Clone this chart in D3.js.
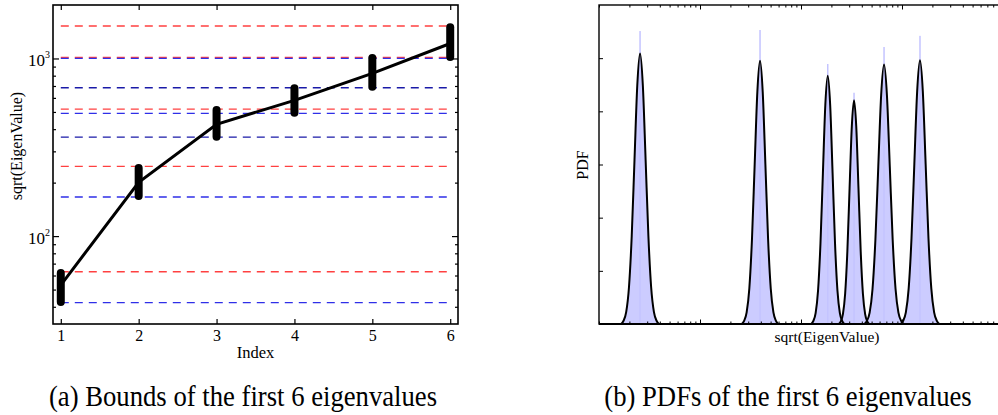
<!DOCTYPE html>
<html>
<head>
<meta charset="utf-8">
<script src="https://cdn.jsdelivr.net/npm/d3@7"></script>
<style>
  body { margin: 0; background: #fff; }
  svg { display: block; }
  svg text { font-family: "Liberation Serif", "Times New Roman", serif; }
</style>
</head>
<body>
<svg id="fig" width="998" height="415"></svg>
<script>
// ---- panel (a): bounds of the eigenvalues ----
const indices = [1, 2, 3, 4, 5, 6];
const meanSqrtEig = [53, 201, 426, 581, 824, 1214];
const sampleLow = [42.6, 168, 363, 495, 694, 1020];
const sampleHigh = [62, 242, 513, 680, 1005, 1500];
const lowerBound = [42.2, 166, 491, 1000];
const upperBound = [63, 247, 519, 1015, 1523];
const sharedBound = [361, 684];
const yMajor = [100, 1000];
const yMinor = [40, 50, 60, 70, 80, 90, 200, 300, 400, 500, 600, 700, 800, 900];

// ---- panel (b): pdfs ----
const peakCenter = [2550, 39300, 184000, 335000, 664000, 1507000];
const peakSigma = [0.055, 0.053, 0.048, 0.044, 0.057, 0.056];   // decades
const peakHeight = [5.09, 4.95, 4.67, 4.21, 4.88, 4.96];
const spikeHeight = [5.51, 5.53, 4.89, 4.35, 5.21, 5.42];
// shape of one peak: [offset in sigma, fraction of peak height]
const peakShape = [[-3.4, 0], [-3, 0.011], [-2.5, 0.044], [-2, 0.135], [-1.5, 0.325],
  [-1, 0.607], [-0.5, 0.882], [0, 1], [0.5, 0.882], [1, 0.607], [1.5, 0.325],
  [2, 0.135], [2.5, 0.044], [3, 0.011], [3.4, 0]];
const pdfTicks = [1, 2, 3, 4, 5];
const xMajorB = [1e4, 1e5, 1e6];

const svg = d3.select('#fig');

// ===================== panel (a) =====================
const A = { left: 53, right: 458, top: 5, bottom: 324 };
const xa = d3.scaleLinear().domain([0.9, 6.1]).range([A.left, A.right]);
const ya = d3.scaleLog().domain([32, 2000]).range([A.bottom, A.top]);
const ga = svg.append('g');

function boundLines(cls, values, colour) {
  ga.selectAll('line.' + cls)
    .data(values)
    .join('line')
    .attr('class', cls)
    .attr('x1', xa(1)).attr('x2', xa(6))
    .attr('y1', d => ya(d)).attr('y2', d => ya(d))
    .attr('stroke', colour)
    .attr('stroke-width', 1.3)
    .attr('stroke-dasharray', '8,6');
}
boundLines('up', upperBound, '#ff4040');
boundLines('low', lowerBound, '#2f2fe8');
boundLines('shared', sharedBound, '#1a1aa8');

// sample ranges (stacked markers)
ga.selectAll('line.range')
  .data(indices)
  .join('line')
  .attr('class', 'range')
  .attr('x1', d => xa(d)).attr('x2', d => xa(d))
  .attr('y1', (d, i) => ya(sampleLow[i]))
  .attr('y2', (d, i) => ya(sampleHigh[i]))
  .attr('stroke', '#000')
  .attr('stroke-width', 8)
  .attr('stroke-linecap', 'round');

// mean line
ga.append('path')
  .datum(indices)
  .attr('fill', 'none')
  .attr('stroke', '#000')
  .attr('stroke-width', 3)
  .attr('d', d3.line().x(d => xa(d)).y((d, i) => ya(meanSqrtEig[i])));

// axes
const axA = svg.append('g');
axA.append('g')
  .attr('transform', `translate(0,${A.bottom})`)
  .call(d3.axisBottom(xa).tickValues(indices).tickSize(-5).tickSizeOuter(0).tickPadding(6).tickFormat(d3.format('d')));
axA.append('g')
  .attr('transform', `translate(0,${A.top})`)
  .call(d3.axisTop(xa).tickValues(indices).tickSize(-5).tickSizeOuter(0).tickFormat(''));
axA.append('g')
  .attr('transform', `translate(${A.left},0)`)
  .call(d3.axisLeft(ya).tickValues(yMinor).tickSize(-3).tickSizeOuter(0).tickFormat(''));
const yMajG = axA.append('g')
  .attr('transform', `translate(${A.left},0)`)
  .call(d3.axisLeft(ya).tickValues(yMajor).tickSize(-6).tickSizeOuter(0).tickFormat(''));
axA.append('g')
  .attr('transform', `translate(${A.right},0)`)
  .call(d3.axisRight(ya).tickValues(yMinor).tickSize(-3).tickSizeOuter(0).tickFormat(''));
axA.append('g')
  .attr('transform', `translate(${A.right},0)`)
  .call(d3.axisRight(ya).tickValues(yMajor).tickSize(-6).tickSizeOuter(0).tickFormat(''));

yMajG.selectAll('.tick text').remove();
yMajG.selectAll('.tick').append('text')
  .attr('x', -3)
  .attr('y', 7)
  .attr('text-anchor', 'end')
  .attr('font-size', 17)
  .each(function(d) {
    const t = d3.select(this);
    t.append('tspan').text('10');
    t.append('tspan').attr('font-size', 10).attr('dy', -8).text(Math.round(Math.log10(d)));
  });

axA.selectAll('.domain').remove();
axA.selectAll('.tick line').attr('stroke', '#000').attr('stroke-width', 1.2);
axA.selectAll('.tick text').attr('fill', '#000');
axA.selectAll('.tick text:not([font-size])').attr('font-size', 16);

ga.append('rect')
  .attr('x', A.left).attr('y', A.top)
  .attr('width', A.right - A.left).attr('height', A.bottom - A.top)
  .attr('fill', 'none').attr('stroke', '#000').attr('stroke-width', 1.6);

svg.append('text')
  .attr('x', (A.left + A.right) / 2).attr('y', 358)
  .attr('text-anchor', 'middle').attr('font-size', 16.5)
  .text('Index');

svg.append('text')
  .attr('transform', 'translate(22,146) rotate(-90)')
  .attr('text-anchor', 'middle').attr('font-size', 16)
  .text('sqrt(EigenValue)');

// ===================== panel (b) =====================
const B = { left: 599, right: 1003, top: 5, bottom: 324 };
const xb = d3.scaleLog().domain([1e3, 1e7]).range([B.left, B.right]);
const yb = d3.scaleLinear().domain([0, 6]).range([B.bottom, B.top]);
const gb = svg.append('g');

const peaks = peakCenter.map((c, i) => peakShape.map(([o, f]) => ({
  x: c * Math.pow(10, o * peakSigma[i]),
  y: f * peakHeight[i]
})));

const area = d3.area().x(d => xb(d.x)).y0(yb(0)).y1(d => yb(d.y)).curve(d3.curveMonotoneX);
const line = d3.line().x(d => xb(d.x)).y(d => yb(d.y)).curve(d3.curveMonotoneX);

gb.selectAll('path.fill')
  .data(peaks)
  .join('path')
  .attr('class', 'fill')
  .attr('fill', '#ccccff')
  .attr('d', area);

gb.selectAll('rect.spike')
  .data(peakCenter)
  .join('rect')
  .attr('class', 'spike')
  .attr('x', d => xb(d) - 0.75)
  .attr('width', 1.5)
  .attr('y', (d, i) => yb(spikeHeight[i]))
  .attr('height', (d, i) => yb(0) - yb(spikeHeight[i]))
  .attr('fill', '#c4c4ff');

gb.append('line')
  .attr('x1', xb(1e3)).attr('x2', xb(1e7))
  .attr('y1', yb(0)).attr('y2', yb(0))
  .attr('stroke', '#000').attr('stroke-width', 2);

gb.selectAll('path.curve')
  .data(peaks)
  .join('path')
  .attr('class', 'curve')
  .attr('fill', 'none')
  .attr('stroke', '#000')
  .attr('stroke-width', 2)
  .attr('d', line);

const axB = svg.append('g');
const minorB = xb.ticks().filter(v => !xMajorB.includes(v));
axB.append('g')
  .attr('transform', `translate(0,${B.bottom})`)
  .call(d3.axisBottom(xb).tickValues(minorB).tickSize(-2.5).tickSizeOuter(0).tickFormat(''));
axB.append('g')
  .attr('transform', `translate(0,${B.bottom})`)
  .call(d3.axisBottom(xb).tickValues(xMajorB).tickSize(-4.5).tickSizeOuter(0).tickFormat(''));
axB.append('g')
  .attr('transform', `translate(0,${B.top})`)
  .call(d3.axisTop(xb).tickValues(minorB).tickSize(-2.5).tickSizeOuter(0).tickFormat(''));
axB.append('g')
  .attr('transform', `translate(0,${B.top})`)
  .call(d3.axisTop(xb).tickValues(xMajorB).tickSize(-4.5).tickSizeOuter(0).tickFormat(''));
axB.append('g')
  .attr('transform', `translate(${B.left},0)`)
  .call(d3.axisLeft(yb).tickValues(pdfTicks).tickSize(-4).tickSizeOuter(0).tickFormat(''));
axB.selectAll('.domain').remove();
axB.selectAll('.tick line').attr('stroke', '#000').attr('stroke-width', 1);

gb.append('rect')
  .attr('x', B.left).attr('y', B.top)
  .attr('width', B.right - B.left).attr('height', B.bottom - B.top)
  .attr('fill', 'none').attr('stroke', '#000').attr('stroke-width', 1.4);

svg.append('text')
  .attr('transform', 'translate(588,165) rotate(-90)')
  .attr('text-anchor', 'middle').attr('font-size', 16)
  .text('PDF');

svg.append('text')
  .attr('x', 827).attr('y', 342)
  .attr('text-anchor', 'middle').attr('font-size', 15.5)
  .text('sqrt(EigenValue)');

// ===================== captions =====================
svg.append('text')
  .attr('transform', 'translate(243,406) scale(0.92,1)')
  .attr('text-anchor', 'middle').attr('font-size', 29)
  .text('(a) Bounds of the first 6 eigenvalues');

svg.append('text')
  .attr('transform', 'translate(788,406) scale(0.92,1)')
  .attr('text-anchor', 'middle').attr('font-size', 29)
  .text('(b) PDFs of the first 6 eigenvalues');
</script>
</body>
</html>
